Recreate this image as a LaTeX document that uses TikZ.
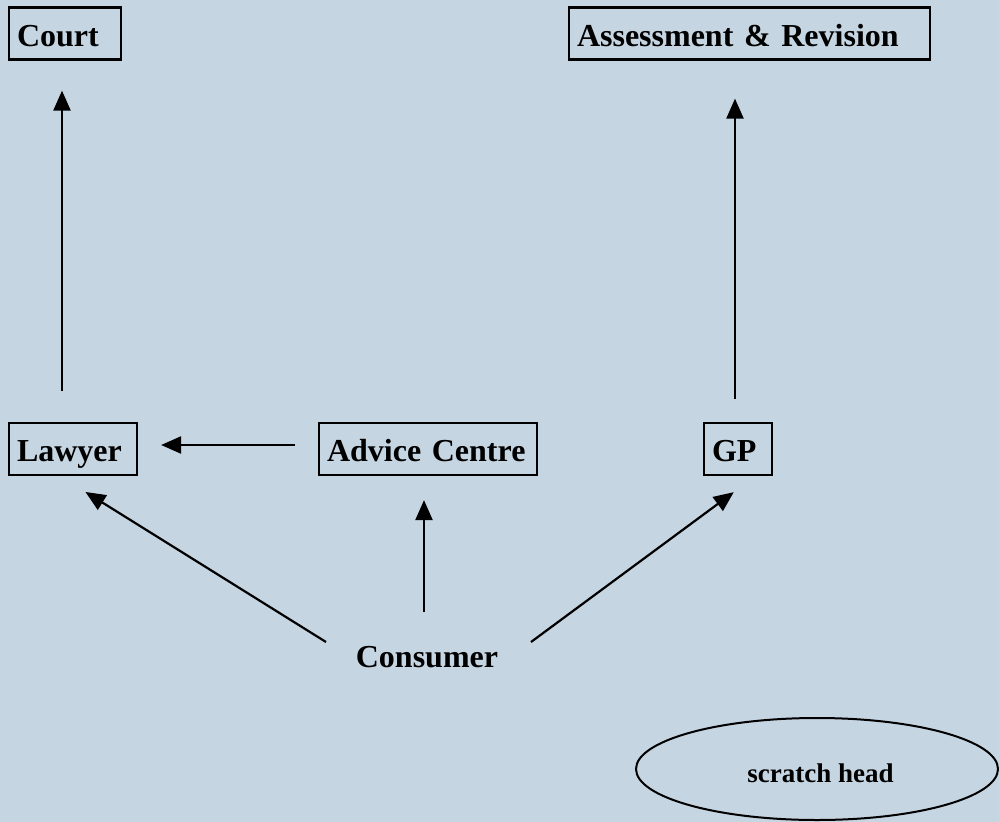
\documentclass[tikz,border=0pt]{standalone}
\usepackage{fontspec}
\setmainfont{Liberation Serif}
\usetikzlibrary{arrows.meta,shapes.geometric}
\definecolor{bgblue}{RGB}{198,213,226}
\tikzset{
  boxnode/.style={draw=black, line width=2.2pt, inner xsep=8pt, inner ysep=0pt,
    font=\fontsize{32}{36}\selectfont\bfseries, text height=25pt, text depth=0pt,
    minimum height=52pt, anchor=center},
  arr/.style={line width=2.2pt, -{Triangle[length=20pt,width=17pt]}},
}
\begin{document}
\begin{tikzpicture}[x=1pt,y=-1pt]
\fill[bgblue] (0,0) rectangle (999,822);
\useasboundingbox (0,0) rectangle (999,822);

\node[boxnode, text width=96pt, align=left] (court) at (65,33.5) {Court};
\node[boxnode, text width=345pt, align=left, inner xsep=8pt] (assess) at (749.5,33.5) {Assessment \& Revision};
\node[boxnode, text width=112pt, align=left] (lawyer) at (73,449) {Lawyer};
\node[boxnode, text width=202pt, align=left] (advice) at (428,449) {Advice Centre};
\node[boxnode, text width=52pt, align=left] (gp) at (738,449) {GP};
\node[font=\fontsize{32}{36}\selectfont\bfseries, text height=24pt, text depth=0pt, inner sep=0pt, anchor=base] (consumer) at (427,667) {Consumer};
\node[draw=black, line width=2pt, ellipse, minimum width=362pt, minimum height=102pt, inner sep=0pt,
  font=\fontsize{27}{30}\selectfont\bfseries, text height=26pt, text depth=0pt] (scratch) at (817,769) {\hspace*{7pt}scratch head};

\draw[arr, shorten <=31pt, shorten >=30pt] ([xshift=-11pt]lawyer.north) -- ([xshift=-3pt]court.south);
\draw[arr, shorten <=23pt, shorten >=38pt] ([xshift=-3pt]gp.north) -- ([xshift=-14.5pt]assess.south);
\draw[arr, shorten <=23pt, shorten >=23pt] ([yshift=4pt]advice.west) -- ([yshift=4pt]lawyer.east);
\draw[arr, shorten <=43pt, shorten >=24pt] ([xshift=-3pt]consumer.center) -- ([xshift=-4pt]advice.south);
\draw[arr, shorten >=30pt] ([xshift=-101pt,yshift=13pt]consumer.center) -- ([xshift=-13pt]lawyer.south);
\draw[arr, shorten >=27pt] ([xshift=104pt,yshift=13pt]consumer.center) -- ([xshift=17.5pt]gp.south);
\end{tikzpicture}
\end{document}
